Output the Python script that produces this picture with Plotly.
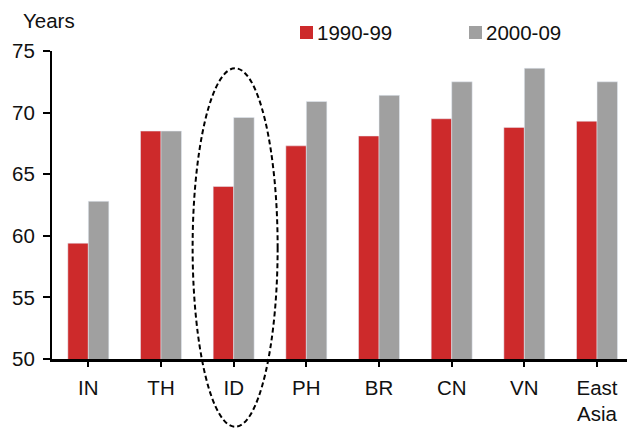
import plotly.graph_objects as go

# Life expectancy at birth, decade averages
categories = ["IN", "TH", "ID", "PH", "BR", "CN", "VN", "East<br>Asia"]
series_names = ["1990-99", "2000-09"]
values_1990s = [59.4, 68.5, 64.0, 67.3, 68.1, 69.5, 68.8, 69.3]
values_2000s = [62.8, 68.5, 69.6, 70.9, 71.4, 72.5, 73.6, 72.5]
y_ticks = [50, 55, 60, 65, 70, 75]
highlight = "ID"

RED = "#CD2A2B"
GREY = "#A0A0A0"
FONT = "Liberation Sans, Arial, sans-serif"
FS = 20.5

W, H = 627, 428
ML, MR, MT, MB = 52, 0, 51, 69
CAT_PX = 72.67  # width of one category slot in pixels
x_lo = -0.5
x_hi = x_lo + (W - ML - MR) / CAT_PX
y_lo, y_hi = 50, 75

fig = go.Figure()
fig.add_trace(go.Bar(x=list(range(len(categories))), y=values_1990s,
                     name=series_names[0], marker_color=RED, showlegend=False))
fig.add_trace(go.Bar(x=list(range(len(categories))), y=values_2000s,
                     name=series_names[1], marker_color=GREY, showlegend=False))

fig.update_layout(
    width=W, height=H,
    margin=dict(l=ML, r=MR, t=MT, b=MB, pad=0),
    paper_bgcolor="white", plot_bgcolor="white",
    barmode="group", bargap=0.436, bargroupgap=0,
    font=dict(family=FONT, size=FS, color="#111111"),
)

fig.update_xaxes(
    range=[x_lo, x_hi],
    tickmode="array", tickvals=list(range(len(categories))), ticktext=categories,
    showline=True, linecolor="black", linewidth=3,
    ticks="outside", ticklen=5, tickwidth=2, tickcolor="black",
    tickson="boundaries", showgrid=False, zeroline=False,
    ticklabelstandoff=3,
)
fig.update_yaxes(
    range=[y_lo, y_hi], tickvals=y_ticks,
    showline=True, linecolor="black", linewidth=2,
    ticks="outside", ticklen=7, tickwidth=2, tickcolor="black",
    showgrid=False, zeroline=False,
    ticklabelstandoff=4,
)


def px_x(cat_pos):
    """Category position -> paper x (plot-area fraction)."""
    return (cat_pos - x_lo) / (x_hi - x_lo)


def px_y(val):
    """Value -> paper y (plot-area fraction)."""
    return (val - y_lo) / (y_hi - y_lo)


# Dashed ellipse drawn around the highlighted country
hi = categories.index(highlight)
fig.add_shape(
    type="circle", xref="paper", yref="paper",
    x0=px_x(hi - 0.565), x1=px_x(hi + 0.605),
    y0=px_y(44.5), y1=px_y(73.6),
    line=dict(color="black", width=2, dash="5px,3px"),
    fillcolor="rgba(0,0,0,0)", layer="above",
)

plot_w = W - ML - MR
plot_h = H - MT - MB

# Unit label
fig.add_annotation(text="Years", xref="paper", yref="paper",
                   x=(21 - ML) / plot_w, y=1 + (MT - 20) / plot_h,
                   xanchor="left", yanchor="middle", showarrow=False,
                   font=dict(size=FS, family=FONT, color="#111111"))

# Legend: coloured squares with labels
legend_items = [(series_names[0], RED, 300), (series_names[1], GREY, 469)]
for label, colour, left in legend_items:
    x0 = (left - ML) / plot_w
    x1 = (left + 13 - ML) / plot_w
    yc = 1 + (MT - 32.5) / plot_h
    half = 6.5 / plot_h
    fig.add_shape(type="rect", xref="paper", yref="paper",
                  x0=x0, x1=x1, y0=yc - half, y1=yc + half,
                  fillcolor=colour, line=dict(width=0))
    fig.add_annotation(text=label, xref="paper", yref="paper",
                       x=(left + 15 - ML) / plot_w, y=yc,
                       xanchor="left", yanchor="middle", showarrow=False,
                       font=dict(size=FS, family=FONT, color="#111111"))

fig.write_html("out.html")
